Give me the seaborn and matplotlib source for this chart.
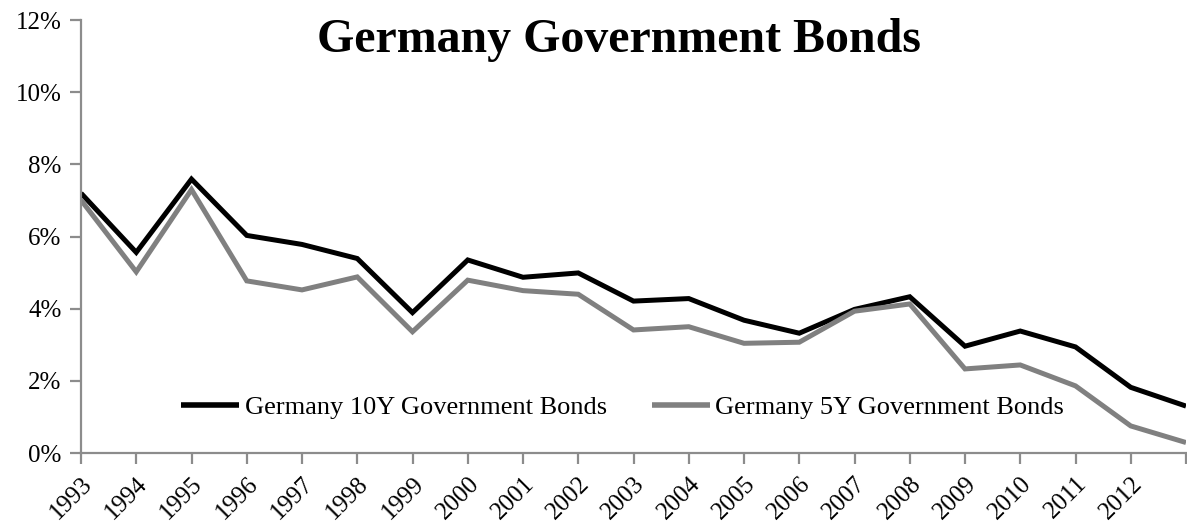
import matplotlib
matplotlib.use("Agg")
import matplotlib.pyplot as plt
import seaborn as sns
import pandas as pd

years = list(range(1993, 2014))
year_labels = [str(y) for y in range(1993, 2013)] + [""]
bund_10y = [7.20, 5.56, 7.59, 6.03, 5.78, 5.39, 3.89, 5.35, 4.87, 4.99, 4.21,
            4.28, 3.68, 3.32, 3.98, 4.33, 2.96, 3.38, 2.94, 1.82, 1.30]
bund_5y = [7.01, 5.02, 7.30, 4.77, 4.52, 4.88, 3.36, 4.79, 4.50, 4.40, 3.41,
           3.50, 3.04, 3.07, 3.93, 4.13, 2.33, 2.44, 1.86, 0.75, 0.29]
series_names = ["Germany 10Y Government Bonds", "Germany 5Y Government Bonds"]
series_colors = ["#000000", "#808080"]
y_ticks = [0, 2, 4, 6, 8, 10, 12]

sns.set_style("ticks")
plt.rcParams["font.family"] = ["Liberation Serif", "DejaVu Serif"]
plt.rcParams["text.color"] = "black"
plt.rcParams["xtick.color"] = "black"
plt.rcParams["ytick.color"] = "black"

df = pd.DataFrame({
    "Year": years * 2,
    "Yield": bund_10y + bund_5y,
    "Series": [series_names[0]] * len(years) + [series_names[1]] * len(years),
})

fig = plt.figure(figsize=(11.87, 5.27), dpi=100)
ax = fig.add_axes([81 / 1187, 1 - 453 / 527, 1105 / 1187, 433 / 527])

sns.lineplot(data=df, x="Year", y="Yield", hue="Series",
             palette=dict(zip(series_names, series_colors)),
             linewidth=3.6, ax=ax, legend=True)
for ln in ax.lines:
    ln.set_solid_joinstyle("miter")
    ln.set_solid_capstyle("butt")

ax.set_xlim(years[0], years[-1])
ax.set_ylim(0, 12)
ax.set_xticks(years)
ax.set_xticklabels(year_labels, rotation=45, ha="right",
                   rotation_mode="anchor", fontsize=18, color="black")
ax.set_yticks(y_ticks)
ax.set_yticklabels([f"{v}%" for v in y_ticks], fontsize=18, color="black")
ax.set_xlabel("")
ax.set_ylabel("")

spine_color = "#8c8c8c"
for side in ["top", "right"]:
    ax.spines[side].set_visible(False)
for side in ["left", "bottom"]:
    ax.spines[side].set_color(spine_color)
    ax.spines[side].set_linewidth(1.6)
ax.tick_params(axis="both", direction="out", length=8, width=1.6,
               color=spine_color)
ax.tick_params(axis="x", pad=6)
ax.tick_params(axis="y", pad=6)

leg = ax.legend(loc="center", bbox_to_anchor=(0.49, 0.106), ncol=2,
                frameon=False, fontsize=19, handlelength=2.2,
                handletextpad=0.2, columnspacing=1.7)
for h in leg.get_lines():
    h.set_linewidth(4)

ax.text(0.487, 0.954, "Germany Government Bonds", transform=ax.transAxes,
        ha="center", va="center", fontsize=34.5, fontweight="bold",
        color="black")

fig.savefig("out.png", dpi=100)
